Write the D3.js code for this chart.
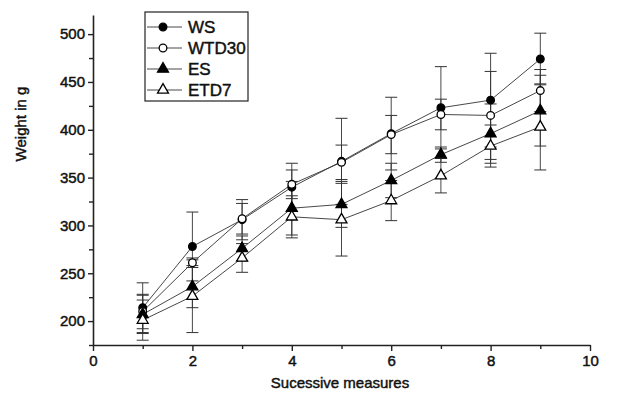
<!DOCTYPE html>
<html>
<head>
<meta charset="utf-8">
<script src="https://cdn.jsdelivr.net/npm/d3@7"></script>
<style>
  body { margin: 0; background: #fff; }
  svg text { font-family: "Liberation Sans", Arial, sans-serif; fill: #111; stroke: #111; stroke-width: 0.45px; }
</style>
</head>
<body>
<svg id="chart" width="636" height="394"></svg>
<script>
// data
const measures = [1, 2, 3, 4, 5, 6, 7, 8, 9];
const wsMean  = [214, 278, 306, 340, 367, 396, 423, 431, 474];
const wsSd    = [26, 36, 21, 25, 45, 38, 43, 49, 27];
const wtdMean = [210, 261, 307, 343, 366, 395, 416, 415, 441];
const wtdSd   = [18, 5, 16, 15, 18, 20, 16, 46, 22];
const esMean  = [207, 236, 276, 318, 322, 347, 374, 396, 420];
const esSd    = [20, 22, 13, 28, 24, 18, 8, 31, 37];
const etdMean = [201, 226, 266, 309, 306, 326, 352, 383, 403];
const etdSd   = [21, 38, 15, 22, 38, 21, 18, 22, 45];
const seriesNames = ["WS", "WTD30", "ES", "ETD7"];
const xTicks = [0, 2, 4, 6, 8, 10];
const yTicks = [200, 250, 300, 350, 400, 450, 500];

var series = [
    { name: seriesNames[0], mean: wsMean,  sd: wsSd,  shape: d3.symbolCircle,   filled: true },
    { name: seriesNames[1], mean: wtdMean, sd: wtdSd, shape: d3.symbolCircle,   filled: false },
    { name: seriesNames[2], mean: esMean,  sd: esSd,  shape: d3.symbolTriangle, filled: true },
    { name: seriesNames[3], mean: etdMean, sd: etdSd, shape: d3.symbolTriangle, filled: false }
];

var svg = d3.select('#chart');

var x = d3.scaleLinear().domain([0, 10]).range([93, 590]);
var y = d3.scaleLinear().domain([175, 520]).range([345, 15]);

var ink = '#222';

// axes
let xAxis = svg.append('g')
    .attr('transform', `translate(0 ${y(175)})`)
    .call(d3.axisBottom(x).tickValues(xTicks).tickSize(6).tickSizeOuter(0).tickPadding(4));

svg.append('g')
    .attr('transform', `translate(0 ${y(175)})`)
    .call(d3.axisBottom(x).tickValues([1, 3, 5, 7, 9]).tickSize(4).tickFormat(''))
    .select('.domain').remove();

let yAxis = svg.append('g')
    .attr('transform', `translate(${x(0)} 0)`)
    .call(d3.axisLeft(y).tickValues(yTicks).tickSize(5).tickSizeOuter(0).tickPadding(3));

svg.append('g')
    .attr('transform', `translate(${x(0)} 0)`)
    .call(d3.axisLeft(y).tickValues([175, 225, 275, 325, 375, 425, 475]).tickSize(4).tickFormat(''))
    .select('.domain').remove();

svg.selectAll('.domain').attr('stroke', ink).attr('stroke-width', 1.6);
svg.selectAll('.tick line').attr('stroke', ink).attr('stroke-width', 1.4);
svg.selectAll('.tick text')
    .attr('font-size', 15)
    .style('font-family', '"Liberation Sans", Arial, sans-serif')
    .attr('fill', '#111');

// axis titles
svg.append('text')
    .attr('x', 340).attr('y', 388)
    .attr('text-anchor', 'middle')
    .attr('font-size', 15)
    .text('Sucessive measures');

svg.append('text')
    .attr('transform', 'translate(26 124) rotate(-90)')
    .attr('text-anchor', 'middle')
    .attr('font-size', 15)
    .text('Weight in g');

var plot = svg.append('g');

// error bars
series.forEach(s => {
    let g = plot.append('g');
    measures.forEach((m, i) => {
        let lo = s.mean[i] - s.sd[i], hi = s.mean[i] + s.sd[i];
        g.append('line')
            .attr('x1', x(m)).attr('x2', x(m))
            .attr('y1', y(lo)).attr('y2', y(hi))
            .attr('stroke', '#333').attr('stroke-width', 0.9);
        [lo, hi].forEach(v => {
            g.append('line')
                .attr('x1', x(m) - 6).attr('x2', x(m) + 6)
                .attr('y1', y(v)).attr('y2', y(v))
                .attr('stroke', '#333').attr('stroke-width', 1);
        });
    });
});

// lines
let line = d3.line().x((d, i) => x(measures[i])).y(d => y(d));

series.forEach(s => {
    plot.append('path')
        .attr('d', line(s.mean))
        .attr('fill', 'none')
        .attr('stroke', '#333')
        .attr('stroke-width', 0.9);
});

// markers
function marker(sel, s) {
    let size = s.shape === d3.symbolCircle ? 46 : 52;
    return sel.attr('d', d3.symbol().type(s.shape).size(size))
        .attr('fill', s.filled ? '#000' : '#fff')
        .attr('stroke', '#000')
        .attr('stroke-width', 1.3);
}

series.forEach(s => {
    plot.append('g').selectAll('path')
        .data(s.mean)
        .enter()
        .append('path')
        .attr('transform', (d, i) => `translate(${x(measures[i])} ${y(d)})`)
        .call(marker, s);
});

// legend
var legend = svg.append('g');

legend.append('rect')
    .attr('x', 145).attr('y', 12)
    .attr('width', 103).attr('height', 89)
    .attr('fill', '#fff')
    .attr('stroke', ink)
    .attr('stroke-width', 1.2);

series.forEach((s, i) => {
    let ly = 27 + i * 21;
    legend.append('line')
        .attr('x1', 147).attr('x2', 182)
        .attr('y1', ly).attr('y2', ly)
        .attr('stroke', '#333').attr('stroke-width', 0.9);
    legend.append('path')
        .attr('transform', `translate(163 ${ly})`)
        .call(marker, s);
    legend.append('text')
        .attr('x', 188).attr('y', ly + 6)
        .attr('font-size', 17)
        .text(s.name);
});
</script>
</body>
</html>
